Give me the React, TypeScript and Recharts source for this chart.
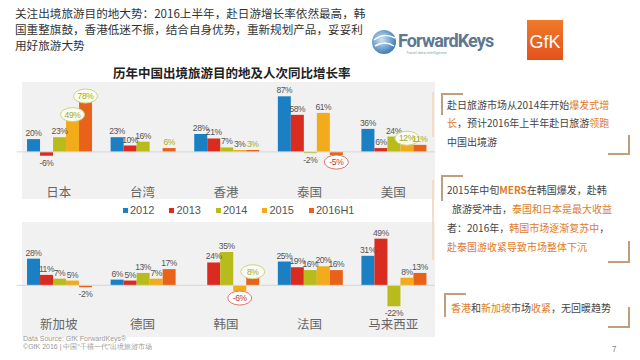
import React from "react";
import { BarChart, Bar, XAxis, YAxis, ReferenceLine, LabelList } from "recharts";

const seriesKeys = ["2012", "2013", "2014", "2015", "2016H1"];

const topCategories = ["日本", "台湾", "香港", "泰国", "美国"];
const top2012 = [20, 23, 28, 87, 36];
const top2013 = [-6, 10, 21, 58, 6];
const top2014 = [23, 16, 7, -2, 24];
const top2015 = [49, 0, 3, 61, 12];
const top2016H1 = [78, 6, 3, -5, 11];

const bottomCategories = ["新加坡", "德国", "韩国", "法国", "马来西亚"];
const bottom2012 = [28, 6, null, 25, 31];
const bottom2013 = [11, 5, 24, 19, 49];
const bottom2014 = [7, 13, 35, 16, -22];
const bottom2015 = [5, 7, -6, 20, 8];
const bottom2016H1 = [-2, 17, 8, 16, 13];

// labels that the slide marks out
const topMarks: Record<string, string> = {
  "日本|2015": "greenCircle",
  "日本|2016H1": "greenCircle",
  "台湾|2016H1": "green",
  "香港|2016H1": "green",
  "泰国|2015": "greenCircle",
  "泰国|2016H1": "redCircle",
  "美国|2016H1": "green",
};
const bottomMarks: Record<string, string> = {
  "韩国|2016H1": "greenCircle",
  "韩国|2015": "redCircle",
};

const colors: Record<string, string> = {
  "2012": "#1b7fc4",
  "2013": "#d92b1f",
  "2014": "#b8bc1a",
  "2015": "#f2ab1b",
  "2016H1": "#e8621a",
};

const buildRows = (cats: string[], cols: (number | null)[][]) =>
  cats.map((name, i) => {
    const row: any = { name };
    seriesKeys.forEach((k, j) => (row[k] = cols[j][i]));
    return row;
  });

const topData = buildRows(topCategories, [top2012, top2013, top2014, top2015, top2016H1]);
const bottomData = buildRows(bottomCategories, [bottom2012, bottom2013, bottom2014, bottom2015, bottom2016H1]);

const makeLabel = (cats: string[], key: string, marks: Record<string, string>) => (props: any) => {
  const { x, y, width, height, value, index } = props;
  if (value == null || x == null) return null;
  const top = Math.min(y, y + height);
  const bottom = Math.max(y, y + height);
  const cx = x + width / 2;
  const neg = value < 0;
  const ty = neg ? bottom + 10 : top - 3;
  const mark = marks[`${cats[index]}|${key}`];
  let fill = "#555";
  if (mark === "green" || mark === "greenCircle") fill = "#a3ad1c";
  if (mark === "redCircle") fill = "#c0392b";
  return (
    <g>
      {mark === "greenCircle" && (
        <ellipse cx={cx} cy={ty - 3} rx={12} ry={7} fill="#fbfbf2" stroke="#cdd38a" strokeWidth={1} />
      )}
      {mark === "redCircle" && (
        <ellipse cx={cx} cy={ty - 3} rx={12} ry={7} fill="#fff" stroke="#d9776e" strokeWidth={1} />
      )}
      <text x={cx} y={ty} textAnchor="middle" fontSize={8.5} fill={fill} letterSpacing={-0.4}
        fontFamily="Liberation Sans, Arial, sans-serif">
        {value}%
      </text>
    </g>
  );
};

function Panel({ data, cats, marks, domain, height }: any) {
  return (
    <BarChart width={418} height={height} data={data} margin={{ top: 6, right: 0, bottom: 0, left: 0 }}
      barCategoryGap="12%" barGap={0}>
      <XAxis dataKey="name" axisLine={false} tickLine={false} interval={0} height={20}
        tick={{ fontSize: 12.5, fill: "#666", fontFamily: "Noto Sans CJK SC" }} />
      <YAxis hide domain={domain} allowDataOverflow />
      <ReferenceLine y={0} stroke="#d6d6d6" />
      {seriesKeys.map((k) => (
        <Bar key={k} dataKey={k} fill={colors[k]} isAnimationActive={false}>
          <LabelList dataKey={k} content={makeLabel(cats, k, marks)} />
        </Bar>
      ))}
    </BarChart>
  );
}

const abs = (s: any): React.CSSProperties => ({ position: "absolute", ...s });
const orange = { color: "#e07b1f" };
const bracketColor = "#bf9f7e";

function Brackets({ tl, br }: { tl: [number, number, number]; br: [number, number, number] }) {
  return (
    <>
      <div style={abs({ left: tl[0], top: tl[1], width: 20, height: tl[2], borderLeft: `2px solid ${bracketColor}`, borderTop: `2px solid ${bracketColor}` })} />
      <div style={abs({ left: 608, top: br[1] - br[2], width: 20, height: br[2], borderRight: `2px solid ${bracketColor}`, borderBottom: `2px solid ${bracketColor}` })} />
    </>
  );
}

export default function App() {
  const line = (top: number, left = 447) => abs({ left, top: top - 7, fontSize: 10, lineHeight: "14px", color: "#444", whiteSpace: "nowrap" });
  return (
    <div style={abs({ left: 0, top: 0, width: 640, height: 360, background: "#fff", fontFamily: "Noto Sans CJK SC, sans-serif", overflow: "hidden" })}>
      <div style={abs({ left: 15, top: 5, fontSize: 11.6, lineHeight: "16px", color: "#333", whiteSpace: "nowrap" })}>
        关注出境旅游目的地大势：2016上半年，赴日游增长率依然最高，韩
        <br />
        国重整旗鼓，香港低迷不振，结合自身优势，重新规划产品，妥妥利
        <br />
        用好旅游大势
      </div>

      {/* logos */}
      <svg style={abs({ left: 370, top: 18 })} width={200} height={44}>
        <defs>
          <radialGradient id="globe" cx="40%" cy="40%" r="60%">
            <stop offset="0%" stopColor="#cfe3f3" />
            <stop offset="100%" stopColor="#3f7fb8" />
          </radialGradient>
          <linearGradient id="gfk" x1="0" y1="0" x2="0" y2="1">
            <stop offset="0%" stopColor="#f07a2a" />
            <stop offset="100%" stopColor="#e2521b" />
          </linearGradient>
        </defs>
        <circle cx={14} cy={24} r={12} fill="url(#globe)" />
        <path d="M4 22 Q14 14 25 20 M5 28 Q15 22 24 28" stroke="#fff" strokeWidth={1.5} fill="none" />
        <text x={28} y={29} fontSize={18} fontWeight="bold" fill="#5f7891" fontFamily="Roboto, sans-serif" letterSpacing={-0.9}>ForwardKeys</text>
        <text x={36} y={36} fontSize={4} fill="#8aa" fontFamily="Roboto, sans-serif">Travel data intelligence</text>
        <rect x={157} y={2} width={36} height={40} fill="url(#gfk)" />
        <text x={175} y={30} fontSize={18} fill="#fff" textAnchor="middle" fontFamily="Liberation Sans, sans-serif">GfK</text>
      </svg>

      <div style={abs({ left: 113, top: 63, fontSize: 12.5, fontWeight: "bold", color: "#222", whiteSpace: "nowrap" })}>
        历年中国出境旅游目的地及人次同比增长率
      </div>

      <div style={abs({ left: 22, top: 82, width: 413, height: 117, background: "#f1f1f1" })} />
      <div style={abs({ left: 22, top: 222, width: 413, height: 115, background: "#f1f1f1" })} />

      <div style={abs({ left: 17, top: 82 })}>
        <Panel data={topData} cats={topCategories} marks={topMarks} domain={[-44, 100]} height={118} />
      </div>

      <div style={abs({ left: 123, top: 204, display: "flex", fontSize: 11, color: "#555", fontFamily: "Liberation Sans, Arial, sans-serif" })}>
        {seriesKeys.map((k) => (
          <div key={k} style={{ display: "flex", alignItems: "center", marginRight: 15 }}>
            <span style={{ width: 5, height: 5, background: colors[k], marginRight: 2, display: "inline-block" }} />
            {k}
          </div>
        ))}
      </div>

      <div style={abs({ left: 17, top: 226 })}>
        <Panel data={bottomData} cats={bottomCategories} marks={bottomMarks} domain={[-28, 56]} height={106} />
      </div>

      <div style={abs({ left: 23, top: 335, fontSize: 7, lineHeight: "8px", color: "#999", fontFamily: "Liberation Sans, sans-serif" })}>
        Data Source: GfK ForwardKeys®
        <br />
        ©GfK 2016 | 中国“千禧一代”出境旅游市场
      </div>

      {/* side notes */}
      <div style={abs({ left: 432, top: 92, width: 2, height: 45, background: "#f6dcc4" })} />
      <div style={abs({ left: 432, top: 180, width: 2, height: 80, background: "#f6dcc4" })} />

      <Brackets tl={[441, 93, 20]} br={[627, 153, 18]} />
      <div style={line(105)}>赴日旅游市场从2014年开始<span style={orange}>爆发式增</span></div>
      <div style={line(123)}><span style={orange}>长</span>，预计2016年上半年赴日旅游<span style={orange}>领跑</span></div>
      <div style={line(142)}>中国出境游</div>

      <Brackets tl={[441, 175, 24]} br={[627, 261, 20]} />
      <div style={line(190)}>2015年中旬<span style={{ ...orange, fontWeight: "bold" }}>MERS</span>在韩国爆发，赴韩</div>
      <div style={line(209, 452)}>旅游受冲击，<span style={orange}>泰国和日本是最大收益</span></div>
      <div style={line(228)}>者：2016年，<span style={orange}>韩国市场逐渐复苏中</span>，</div>
      <div style={line(247)}><span style={orange}>赴泰国游收紧导致市场整体下沉</span></div>

      <Brackets tl={[444, 293, 22]} br={[627, 326, 19]} />
      <div style={line(308, 451)}><span style={orange}>香港</span>和<span style={orange}>新加坡</span>市场<span style={orange}>收紧</span>，无回暖趋势</div>

      <div style={abs({ left: 612, top: 343, fontSize: 8, color: "#888" })}>7</div>
    </div>
  );
}
